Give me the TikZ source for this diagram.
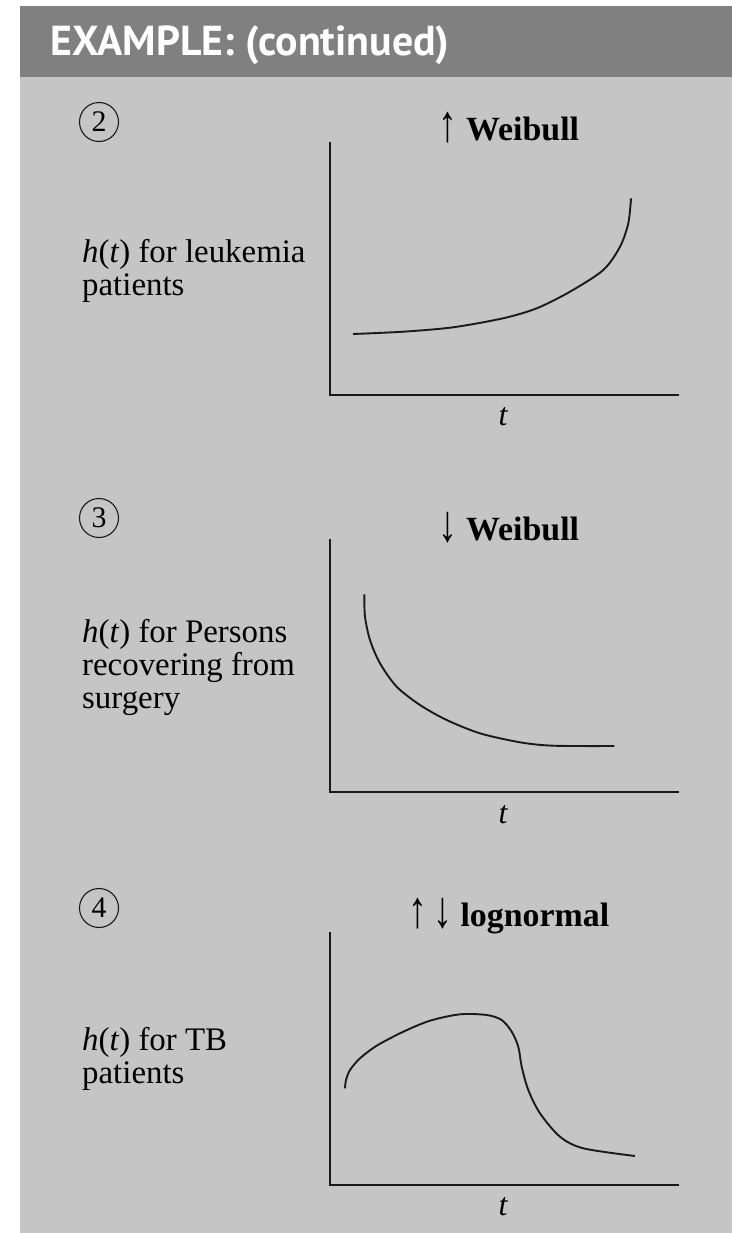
\documentclass[tikz,border=0pt]{standalone}
\usepackage{fontspec}
\usepackage{graphicx}
\setmainfont{Liberation Serif}
\newfontfamily\bandeaufont{PT Sans}
\usetikzlibrary{positioning}
\definecolor{bandgray}{HTML}{808080}
\definecolor{boxgray}{HTML}{C4C5C4}
\definecolor{inkgray}{HTML}{1A1A1A}
\newcommand{\fleche}[1]{\raisebox{-1bp}{\scalebox{1.05}[1.45]{\mdseries\fontsize{36}{36}\selectfont #1}}}

\begin{document}
\begin{tikzpicture}[x=1bp,y=-1bp,
  axe/.style={line width=2bp,draw=inkgray},
  courbe/.style={line width=1.9bp,draw=inkgray},
  numero/.style={circle,draw=inkgray,line width=1.1bp,minimum size=39bp,inner sep=0pt,font=\fontsize{30}{30}\selectfont},
  legende/.style={anchor=base west,align=left,inner sep=0pt,font=\fontsize{33}{33}\selectfont},
  titre/.style={anchor=base,inner sep=0pt,font=\fontsize{34}{34}\selectfont\bfseries},
  tlabel/.style={anchor=base,inner sep=0pt,font=\fontsize{32}{32}\selectfont\itshape}]

% fond et bandeau
\fill[white] (0,0) rectangle (732,1233);
\fill[boxgray] (20,6) rectangle (732,1233);
\fill[bandgray] (20,6) rectangle (732,77);
\useasboundingbox (0,0) rectangle (732,1233);
\node[anchor=base west,inner sep=0pt,text=white,font=\bandeaufont\fontsize{42}{42}\selectfont\bfseries] (bandeau) at (50,55) {EXAMPLE: (continued)};

%%% cas 2
\node[numero] (n2) at (99,122) {2};
\node[titre] (titre2) at (509,140) {\fleche{↑} Weibull};
\node[legende] (leg2) at (82,295) {\textit{h}(\textit{t}) for leukemia\\patients};
\coordinate (h2) at (330,142);
\coordinate (o2) at (330,395);
\coordinate (x2) at (679,395);
\draw[axe] (h2) -- (o2) -- (x2);%les axes
\node[tlabel] (t2) at (503,425) {t};
\draw[courbe] plot[smooth] coordinates{(353,334)(403,331.7)(453,327.3)(503,318.3)(536.7,308.3)(570,291.7)(603.3,270)(620,246.7)(628.3,223.3)(631,198.3)};

%%% cas 3
\node[numero] (n3) at (99,518) {3};
\node[titre] (titre3) at (509,540) {\fleche{↓} Weibull};
\node[legende] (leg3) at (82,708) {\textit{h}(\textit{t}) for Persons\\recovering from\\surgery};
\coordinate (h3) at (330,539);
\coordinate (o3) at (330,792);
\coordinate (x3) at (679,792);
\draw[axe] (h3) -- (o3) -- (x3);
\node[tlabel] (t3) at (503,823) {t};
\draw[courbe] plot[smooth] coordinates{(364.3,594.3)(365,616.7)(370,640)(380,663.3)(396.7,686.7)(420,705)(446.7,720)(480,733.3)(520,742.3)(553.3,745.7)(614.3,746)};

%%% cas 4
\node[numero] (n4) at (99,908) {4};
\node[titre] (titre4) at (509,926) {\fleche{↑}\,\fleche{↓} lognormal};
\node[legende] (leg4) at (82,1083) {\textit{h}(\textit{t}) for TB\\patients};
\coordinate (h4) at (330,932);
\coordinate (o4) at (330,1185);
\coordinate (x4) at (679,1185);
\draw[axe] (h4) -- (o4) -- (x4);
\node[tlabel] (t4) at (503,1215) {t};
\draw[courbe] plot[smooth] coordinates{(345,1088.3)(346,1080)(350,1070)(360,1058.3)(376.7,1045.7)(403.3,1031.7)(430,1020.7)(460,1014.3)(486.7,1015)(501.7,1020)(511.7,1031.7)(518.3,1046.7)(521.7,1066.7)(528.3,1090)(540,1113.3)(560,1136.7)(583.3,1148.3)(635,1156)};
\end{tikzpicture}
\end{document}
